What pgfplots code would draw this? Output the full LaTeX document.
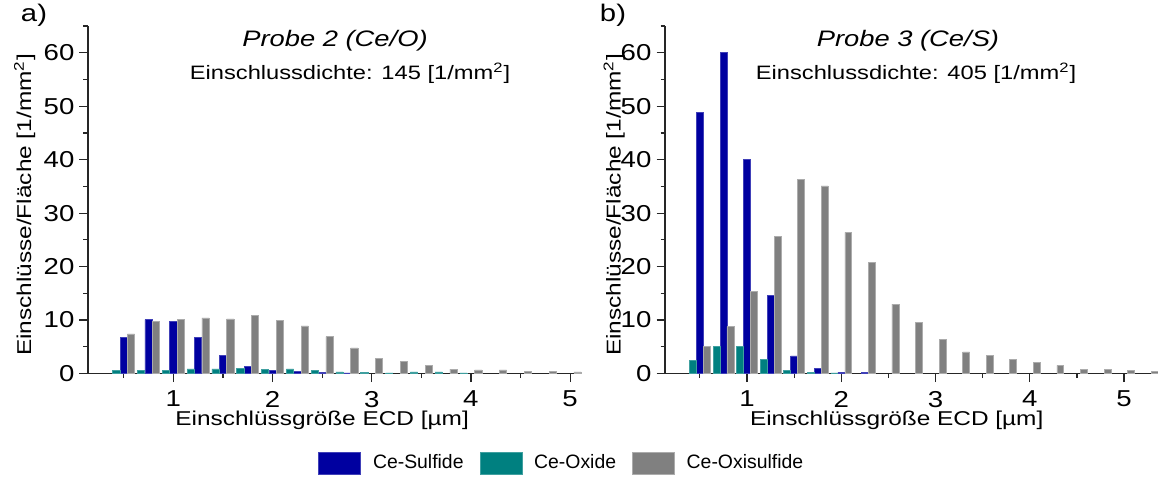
\documentclass[border=0pt]{standalone}
\usepackage{fontspec}
\setmainfont{Liberation Sans}[FakeStretch=1.22]
\newfontfamily\tickfamily{Liberation Sans}[FakeStretch=1.2]
\newfontfamily\legfamily{Liberation Sans}
\usepackage{pgfplots}
\usepackage{pgfplotstable}
\pgfplotsset{compat=1.18}

\definecolor{sulfid}{RGB}{0,0,160}
\definecolor{oxid}{RGB}{0,128,128}
\definecolor{oxisulfid}{RGB}{128,128,128}

% ECD-Klassen, Einschlüsse je Fläche [1/mm^2]
\pgfplotstableread{
x     sulf  ox    oxis
0.50  6.7   0.55  7.4
0.75  10.1  0.55  9.8
1.00  9.8   0.6   10.1
1.25  6.7   0.85  10.4
1.50  3.4   0.85  10.2
1.75  1.4   0.9   10.8
2.00  0.6   0.8   9.9
2.25  0.4   0.85  8.9
2.50  0.2   0.65  6.9
2.75  0.1   0.3   4.8
3.00  nan   0.2   2.9
3.25  nan   0.1   2.3
3.50  nan   0.3   1.5
3.75  nan   0.3   0.8
4.00  nan   0.1   0.66
4.25  nan   nan   0.66
4.50  nan   nan   0.4
4.75  nan   nan   0.4
5.00  nan   nan   0.3
}\probezwei

\pgfplotstableread{
x     sulf  ox    oxis
0.50  48.9  2.5   5.1
0.75  60.0  5.1   8.75
1.00  40.0  5.0   15.4
1.25  14.6  2.7   25.7
1.50  3.3   0.56  36.3
1.75  0.95  0.25  35.1
2.00  0.25  0.1   26.4
2.25  0.2   nan   20.75
2.50  nan   nan   13.0
2.75  nan   nan   9.6
3.00  nan   nan   6.4
3.25  nan   nan   4.06
3.50  nan   nan   3.4
3.75  nan   nan   2.7
4.00  nan   nan   2.06
4.25  nan   nan   1.5
4.50  nan   nan   0.8
4.75  nan   nan   0.8
5.00  nan   nan   0.6
5.25  nan   nan   0.44
}\probedrei

\newcommand{\lblfont}{\fontsize{11.2}{13}\selectfont}

\pgfplotsset{
  ecd/.style={
    scale only axis,
    height=173.75pt,
    ybar, bar width=0.073,
    ymin=0, ymax=65,
    axis x line*=bottom, axis y line*=left,
    axis line style={-, black!85, line width=0.75pt},
    xtick={1,2,3,4,5}, minor xtick={0.5,1.5,2.5,3.5,4.5},
    ytick={0,10,...,60}, minor ytick={5,15,...,65},
    tick align=outside,
    major tick length=4.25pt, minor tick length=2.25pt,
    tick style={black!85, line width=0.6pt},
    /pgf/number format/assume math mode=true,
    ticklabel style={font=\tickfamily\fontsize{11.5}{13}\selectfont},
    yticklabel style={xshift=1pt},
    xticklabel style={yshift=-1pt},
    label style={font=\lblfont},
    xlabel style={font=\fontsize{11.6}{13}\selectfont},
    xlabel={Einschlüssgröße ECD [µm]},
    ylabel={Einschlüsse/Fläche [1/mm\textsuperscript{2}]},
  },
  sulfbar/.style={fill=sulfid, draw=sulfid!75!white, line width=0.3pt, bar shift=0},
  oxbar/.style={fill=oxid, draw=oxid!75!white, line width=0.3pt, bar shift=-0.074},
  oxisbar/.style={fill=oxisulfid, draw=oxisulfid!65!white, line width=0.3pt, bar shift=0.074},
}

\begin{document}
\begin{tikzpicture}
\useasboundingbox (0,0) rectangle (579pt,-238.5pt);

% a) Probe 2
\begin{axis}[ecd,
    at={(44pt,-186.75pt)}, anchor=south west,
    width=247pt,
    xmin=0.14, xmax=5.12,
    every axis x label/.style={at={(axis description cs:0.474,-0.134)}, anchor=center},
    every axis y label/.style={at={(axis description cs:-0.128,0.485)}, rotate=90, anchor=center},
    legend columns=3,
    legend style={at={(axis description cs:0.4656,-0.2576)}, anchor=west,
                  draw=none, fill=none, inner sep=0pt,
                  font=\legfamily\fontsize{9.7}{11}\selectfont,
                  /tikz/every odd column/.append style={column sep=6pt},
                  /tikz/every even column/.append style={column sep=6pt}},
    legend image code/.code={\fill[#1] (0pt,-5.5pt) rectangle (21pt,5.5pt);},
]
\addplot[sulfbar] table[x=x, y=sulf] {\probezwei};
\addlegendentry{\hspace{-2pt}Ce-Sulfide}
\addplot[oxbar] table[x=x, y=ox] {\probezwei};
\addlegendentry{\hspace{-2pt}Ce-Oxide}
\addplot[oxisbar] table[x=x, y=oxis] {\probezwei};
\addlegendentry{\hspace{-2pt}Ce-Oxisulfide}
\end{axis}

% b) Probe 3
\begin{axis}[ecd,
    at={(332.5pt,-186.75pt)}, anchor=south west,
    width=246.5pt,
    xmin=0.13, xmax=5.36,
    every axis x label/.style={at={(axis description cs:0.47,-0.134)}, anchor=center},
    every axis y label/.style={at={(axis description cs:-0.103,0.485)}, rotate=90, anchor=center},
]
\addplot[sulfbar] table[x=x, y=sulf] {\probedrei};
\addplot[oxbar] table[x=x, y=ox] {\probedrei};
\addplot[oxisbar] table[x=x, y=oxis] {\probedrei};
\end{axis}

\node[font=\fontsize{12}{14}\selectfont] at (17pt,-7.5pt) {a)};
\node[font=\fontsize{12}{14}\selectfont] at (306.5pt,-7.5pt) {b)};

\node[font=\fontsize{11.2}{14}\selectfont\itshape] at (167.5pt,-20.5pt) {Probe 2 (Ce/O)};
\node[font=\fontsize{9.7}{12}\selectfont] at (175pt,-36.5pt) {Einschlussdichte: 145 [1/mm\textsuperscript{2}]};
\node[font=\fontsize{11.2}{14}\selectfont\itshape] at (454pt,-20.5pt) {Probe 3 (Ce/S)};
\node[font=\fontsize{9.7}{12}\selectfont] at (458pt,-36.5pt) {Einschlussdichte: 405 [1/mm\textsuperscript{2}]};
\end{tikzpicture}
\end{document}
